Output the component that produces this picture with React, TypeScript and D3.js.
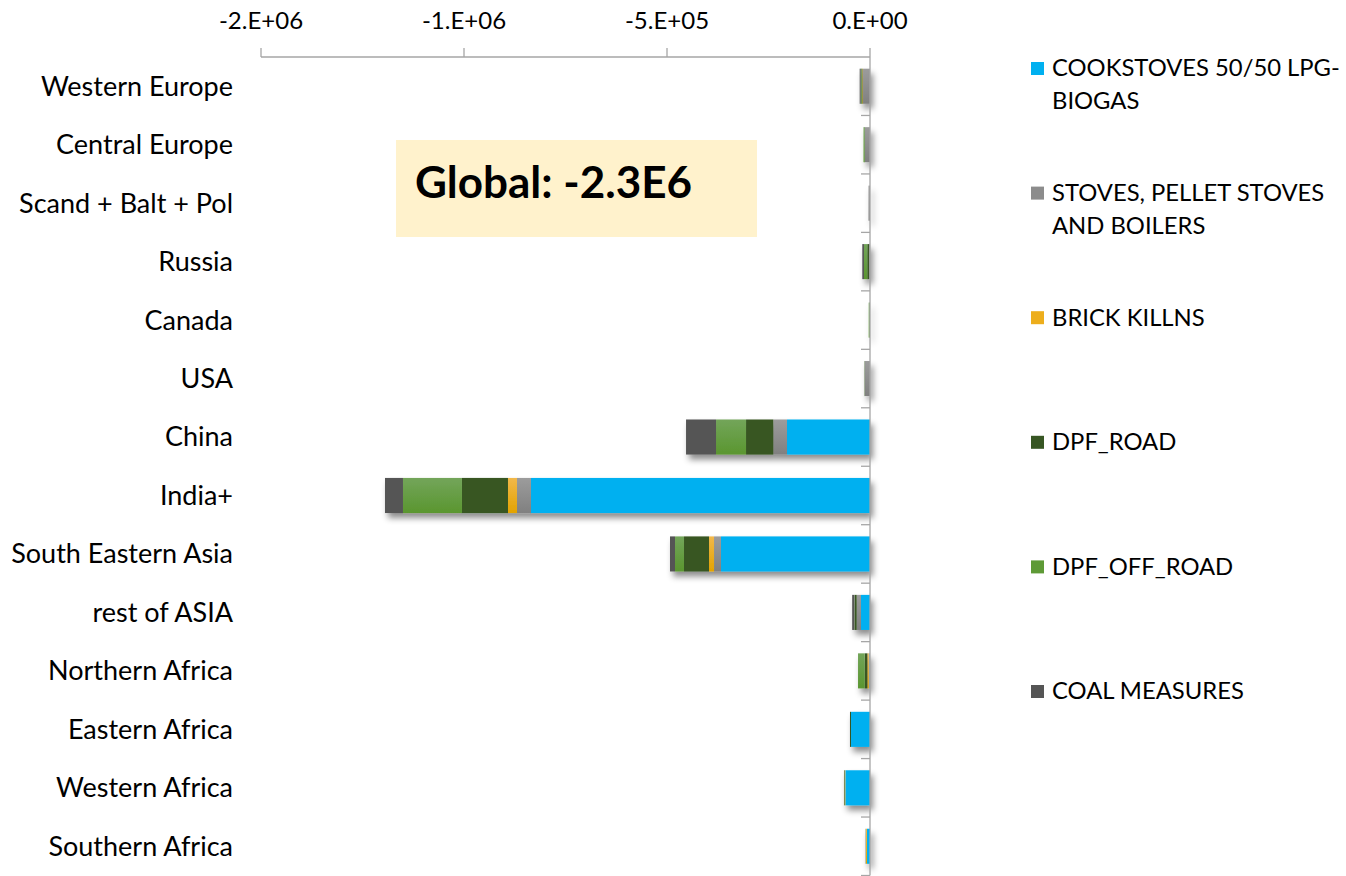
import React from "react";
import * as d3 from "d3";

// Regions, top to bottom
const regions = [
  "Western Europe",
  "Central Europe",
  "Scand + Balt + Pol",
  "Russia",
  "Canada",
  "USA",
  "China",
  "India+",
  "South Eastern Asia",
  "rest of ASIA",
  "Northern Africa",
  "Eastern Africa",
  "Western Africa",
  "Southern Africa",
];

// Measure series (stacked outward from zero in this order)
const seriesNames = [
  "COOKSTOVES 50/50 LPG-BIOGAS",
  "STOVES, PELLET STOVES AND BOILERS",
  "BRICK KILLNS",
  "DPF_ROAD",
  "DPF_OFF_ROAD",
  "COAL MEASURES",
];

const cookstoves = [0, 0, 0, 0, 0, 0, -204400, -835000, -367000, -22200, -1200, -46800, -60800, -7400];
const stoves = [-17200, -12300, -3700, -2500, 0, -12300, -33700, -34500, -17200, -10600, -2000, 0, 0, 0];
const brickKilns = [-1500, 0, 0, 0, 0, 0, 0, -22200, -12300, 0, -3200, 0, -1800, -2500];
const dpfRoad = [-2500, -1200, 0, -4200, -700, -1000, -67200, -113300, -61600, -4200, -6600, -2500, -1500, -700];
const dpfOffRoad = [-1700, -2500, 0, -8100, -2500, 0, -73900, -145300, -22200, -1200, -16500, 0, 0, 0];
const coalMeasures = [-2500, 0, 0, -4200, 0, 0, -73900, -44300, -12300, -5700, 0, 0, 0, 0];

const seriesValues = [cookstoves, stoves, brickKilns, dpfRoad, dpfOffRoad, coalMeasures];

// Axis ticks every 5E5; labels use a zero-decimal scientific format
const xTicks = [-1.5e6, -1e6, -5e5, 0];
const xTickLabels = ["-2.E+06", "-1.E+06", "-5.E+05", "0.E+00"];

const globalLabel = "Global: -2.3E6";

const fills = [
  "#00B0F0",
  "url(#gStoves)",
  "url(#gBrick)",
  "#375623",
  "url(#gOff)",
  "#555555",
];
const legendFills = ["#00B0F0", "#8C8C8C", "#EDAE1C", "#375623", "#5E9A36", "#555555"];
const legendLines = [
  ["COOKSTOVES 50/50 LPG-", "BIOGAS"],
  ["STOVES, PELLET STOVES", "AND BOILERS"],
  ["BRICK KILLNS"],
  ["DPF_ROAD"],
  ["DPF_OFF_ROAD"],
  ["COAL MEASURES"],
];

const W = 1346;
const H = 876;
const FONT = "Lato, 'Open Sans', sans-serif";

export default function App() {
  const x = d3.scaleLinear().domain([-1.5e6, 0]).range([261, 870]);
  const y = d3
    .scaleBand<string>()
    .domain(regions)
    .range([57, 875.5])
    .paddingInner(0.4)
    .paddingOuter(0.2);
  const step = y.step();
  const y0 = 57;

  const rows = regions.map((r, ri) => {
    const o: Record<string, number | string> = { region: r };
    seriesNames.forEach((s, i) => (o[s] = seriesValues[i][ri]));
    return o;
  });
  const stack = d3
    .stack<Record<string, number | string>>()
    .keys(seriesNames)
    .offset(d3.stackOffsetDiverging);
  const layers = stack(rows as any);

  const legendX = 1031;
  const legendY0 = 68;
  const legendStep = 124.6;

  return (
    <svg width={W} height={H} style={{ display: "block", position: "absolute", left: 0, top: 0 }}>
      <defs>
        <filter id="shadow" x="-10%" y="-30%" width="130%" height="190%">
          <feDropShadow dx="3" dy="5" stdDeviation="3" floodColor="#000" floodOpacity="0.45" />
        </filter>
        <linearGradient id="gStoves" x1="0" y1="0" x2="0" y2="1">
          <stop offset="0" stopColor="#9C9C9C" />
          <stop offset="1" stopColor="#808080" />
        </linearGradient>
        <linearGradient id="gBrick" x1="0" y1="0" x2="0" y2="1">
          <stop offset="0" stopColor="#F2B84A" />
          <stop offset="1" stopColor="#E3A300" />
        </linearGradient>
        <linearGradient id="gOff" x1="0" y1="0" x2="0" y2="1">
          <stop offset="0" stopColor="#73A55A" />
          <stop offset="1" stopColor="#5A962F" />
        </linearGradient>
      </defs>
      <rect x={0} y={0} width={W} height={H} fill="#fff" />

      {/* value axis at top */}
      <line x1={x(-1.5e6)} x2={x(0)} y1={y0} y2={y0} stroke="#A6A6A6" strokeWidth={1.3} />
      {xTicks.map((t, i) => (
        <g key={t}>
          <line x1={x(t)} x2={x(t)} y1={y0 - 9} y2={y0} stroke="#A6A6A6" strokeWidth={1.3} />
          <text x={x(t)} y={29} textAnchor="middle" fontFamily={FONT} fontSize={24} fill="#000">
            {xTickLabels[i]}
          </text>
        </g>
      ))}

      {/* bars */}
      <g filter="url(#shadow)">
        {layers.map((layer, li) =>
          layer.map((d, di) => {
            const x1 = x(Math.min(d[0], d[1]));
            const x2 = x(Math.max(d[0], d[1]));
            if (x2 - x1 <= 0) return null;
            return (
              <rect
                key={`${li}-${di}`}
                x={x1}
                y={y(regions[di])!}
                width={x2 - x1}
                height={y.bandwidth()}
                fill={fills[li]}
              />
            );
          })
        )}
      </g>

      {/* category axis */}
      <line x1={870} x2={870} y1={y0} y2={875.5} stroke="#A6A6A6" strokeWidth={1.3} />
      {regions.map((r, i) => (
        <line
          key={`t${r}`}
          x1={861}
          x2={870}
          y1={y0 + (i + 1) * step}
          y2={y0 + (i + 1) * step}
          stroke="#A6A6A6"
          strokeWidth={1.3}
        />
      ))}
      {regions.map((r) => (
        <text
          key={r}
          x={233}
          y={y(r)! + y.bandwidth() / 2}
          dy="0.35em"
          textAnchor="end"
          fontFamily={FONT}
          fontSize={27}
          fill="#000"
        >
          {r}
        </text>
      ))}

      {/* global total box */}
      <rect x={396} y={140} width={361} height={97} fill="#FFF2CC" />
      <text x={415} y={198} fontFamily={FONT} fontWeight={700} fontSize={44} fill="#000">
        {globalLabel}
      </text>

      {/* legend */}
      {seriesNames.map((s, i) => (
        <g key={s} transform={`translate(${legendX},${legendY0 + i * legendStep})`}>
          <rect x={0} y={-6} width={13} height={13} fill={legendFills[i]} />
          {legendLines[i].map((line, j) => (
            <text key={j} x={21} y={j * 33} dy="0.35em" fontFamily={FONT} fontSize={23.8} fill="#000">
              {line}
            </text>
          ))}
        </g>
      ))}
    </svg>
  );
}
